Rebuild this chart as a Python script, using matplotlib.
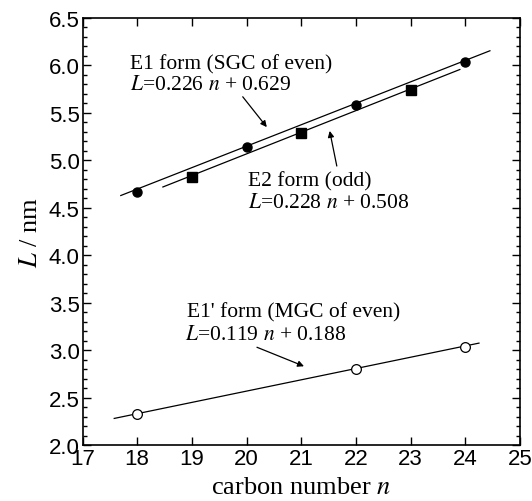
import numpy as np
import matplotlib
matplotlib.use("Agg")
from matplotlib import pyplot as plt
from matplotlib.ticker import MultipleLocator

# E1 form (SGC of even), filled circles
n_e1 = [18, 20, 22, 24]
L_e1 = [4.67, 5.14, 5.58, 6.04]
# E2 form (odd), filled squares
n_e2 = [19, 21, 23]
L_e2 = [4.82, 5.29, 5.74]
# E1' form (MGC of even), open circles
n_e1p = [18, 22, 24]
L_e1p = [2.33, 2.80, 3.03]

# fitted lines: slope, intercept, n range
fit_e1 = (0.226, 0.629, 17.7, 24.45)
fit_e2 = (0.228, 0.508, 18.47, 23.9)
fit_e1p = (0.119, 0.188, 17.58, 24.25)

plt.rcParams['mathtext.fontset'] = 'stix'
serif = 'Liberation Serif'
sans = 'Liberation Sans'

fig = plt.figure(figsize=(5.32, 5.02), dpi=100)
ax = fig.add_axes([82.5 / 532, 1 - 446 / 502, (520 - 82.5) / 532, (446 - 19) / 502])

for a, b, x0, x1 in [fit_e1, fit_e2, fit_e1p]:
    xx = np.array([x0, x1])
    ax.plot(xx, a * xx + b, 'k-', lw=0.9)

ax.plot(n_e1, L_e1, 'ko', ms=6.5)
ax.plot(n_e2, L_e2, 'ks', ms=7)
ax.plot(n_e1p, L_e1p, 'o', mfc='white', mec='k', mew=0.9, ms=7)

ax.set_xlim(17, 25)
ax.set_ylim(2.0, 6.5)
ax.xaxis.set_major_locator(MultipleLocator(1))
ax.yaxis.set_major_locator(MultipleLocator(0.5))
ax.yaxis.set_minor_locator(MultipleLocator(0.1))
ax.tick_params(which='both', direction='in', top=True, right=True, width=1)
ax.tick_params(which='major', length=6, labelsize=16, pad=2)
ax.tick_params(which='minor', length=3)
ax.tick_params(axis='x', which='minor', bottom=False, top=False)
for lab in ax.get_xticklabels() + ax.get_yticklabels():
    lab.set_family(sans)
for s in ax.spines.values():
    s.set_linewidth(1.2)

ax.set_xlabel(r'carbon number $n$', family=serif, fontsize=19, labelpad=5)
ax.set_ylabel(r'$L$ / nm', family=serif, fontsize=19, labelpad=5)

fs = 15.5
ax.text(17.87, 6.015, 'E1 form (SGC of even)', family=serif, fontsize=fs, va='center')
ax.text(17.87, 5.80, r'$L$=0.226 $n$ + 0.629', family=serif, fontsize=fs, va='center')
ax.text(20.03, 4.78, 'E2 form (odd)', family=serif, fontsize=fs, va='center')
ax.text(20.03, 4.56, r'$L$=0.228 $n$ + 0.508', family=serif, fontsize=fs, va='center')
ax.text(18.91, 3.40, "E1' form (MGC of even)", family=serif, fontsize=fs, va='center')
ax.text(18.88, 3.16, r'$L$=0.119 $n$ + 0.188', family=serif, fontsize=fs, va='center')

arrow = dict(arrowstyle='-|>', color='k', lw=0.9, mutation_scale=9, shrinkA=0, shrinkB=0)
ax.annotate('', xy=(20.37, 5.35), xytext=(19.93, 5.67), arrowprops=arrow)
ax.annotate('', xy=(21.52, 5.31), xytext=(21.65, 4.94), arrowprops=arrow)
ax.annotate('', xy=(21.05, 2.83), xytext=(20.19, 3.03), arrowprops=arrow)

fig.savefig('out.png', dpi=100)
